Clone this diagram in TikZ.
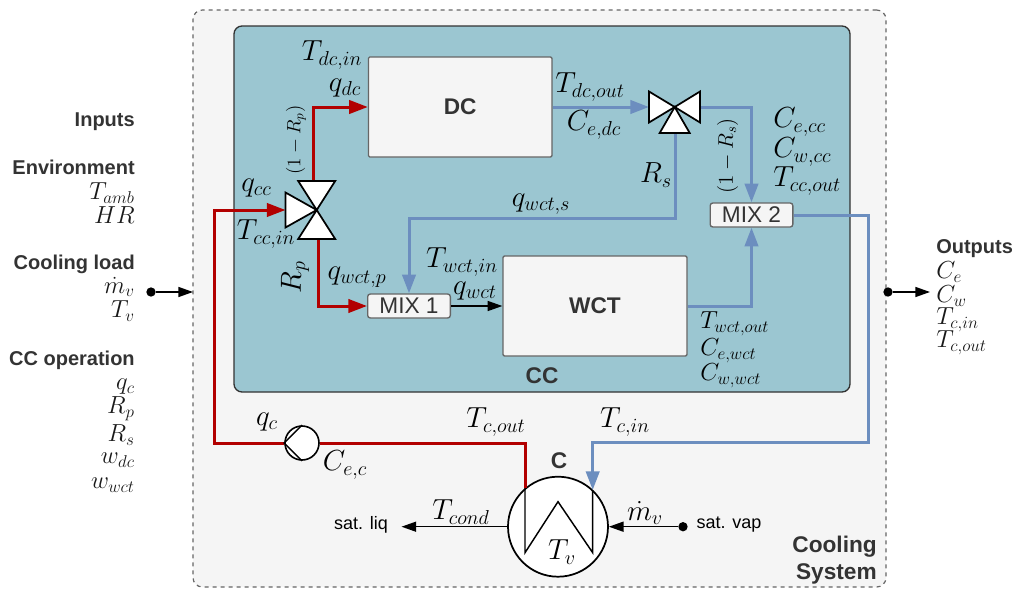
\documentclass[tikz,border=0pt]{standalone}
\usepackage{amsmath}
\usepackage[no-math]{fontspec}
\setmainfont{Liberation Sans}
\usepackage{xcolor}
\usetikzlibrary{arrows.meta, positioning, calc}
\tikzset{>={Stealth}}
\definecolor{hotred}{HTML}{B20000}
\definecolor{coldblue}{HTML}{6C8EBF}
\definecolor{ccfill}{HTML}{9BC6D1}
\definecolor{sysfill}{HTML}{F5F5F5}
\definecolor{darktext}{HTML}{333333}
\begin{document}
\begin{tikzpicture}[
  x=0.75pt, y=-0.75pt,
  lab/.style={font=\huge, scale=1.05, inner sep=0pt},
  sidelab/.style={font=\LARGE, scale=1.07, inner sep=0pt, text=black!90},
  smalllab/.style={font=\Large, inner sep=0pt, rotate=90},
  head/.style={font=\fontsize{15}{18}\selectfont\bfseries, text=darktext, inner sep=0pt},
  title/.style={font=\fontsize{17}{20}\selectfont\bfseries, text=darktext, inner sep=0pt},
  plain/.style={font=\fontsize{13.5}{16}\selectfont, inner sep=0pt},
  unit/.style={draw=black!60, line width=1pt, fill=sysfill, rounded corners=1pt, font=\fontsize{17}{20}\selectfont\bfseries, text=darktext, inner sep=0pt},
  mix/.style={draw=black!60, line width=1pt, fill=sysfill, rounded corners=2pt, font=\fontsize{17}{20}\selectfont, text=darktext, inner sep=0pt, minimum width=62pt, minimum height=18pt},
  redline/.style={draw=hotred, line width=2.25pt, -{Triangle[length=14pt,width=10pt]}},
  blueline/.style={draw=coldblue, line width=2.25pt, -{Triangle[length=14pt,width=10pt]}},
  blackline/.style={draw=black, line width=1.1pt, -{Triangle[length=11pt,width=7.5pt]}},
  valve/.style={draw=black, line width=1.3pt, fill=white, line join=miter},
  dotnode/.style={circle, fill=black, inner sep=0pt, minimum size=7pt}
]
  \useasboundingbox (0,0) rectangle (1014,589);

  % Frames
  \node[draw=black!60, dashed, line width=0.9pt, fill=sysfill, rounded corners=7pt, minimum width=519.75pt, minimum height=432.75pt, inner sep=0pt] (system) at (539.5,298.5) {};
  \node[draw=black!80, line width=1pt, fill=ccfill, rounded corners=6pt, minimum width=462pt, minimum height=274.5pt, inner sep=0pt] (cc) at (542,209) {};

  % Units
  \node[unit, minimum width=137.6pt, minimum height=75pt] (dc) at (460.2,107) {\raisebox{-1.5pt}{DC}};
  \node[unit, minimum width=138pt, minimum height=75pt] (wct) at (595,306) {WCT};
  \node[mix] (mixone) at (409,306) {MIX 1};
  \node[mix] (mixtwo) at (751.5,215) {MIX 2};
  \node[circle, draw=black, line width=1.2pt, fill=white, minimum size=25.5pt, inner sep=0pt] (pump) at (302,443) {};
  \node[circle, draw=black, line width=1.3pt, fill=white, minimum size=75pt, inner sep=0pt] (cond) at (558,526.7) {};
  \node[dotnode] (dotin) at (151,292) {};
  \node[dotnode] (dotout) at (888,292) {};
  \node[dotnode] (dotvap) at (683,526.7) {};

  % Ports
  \coordinate (vone) at (316.7,210);
  \coordinate (vtwo) at (674.7,107);
  \coordinate (vonew) at (285.5,210);
  \coordinate (vonen) at (313,181);
  \coordinate (vones) at (318,239);
  \coordinate (vtwow) at (649,107);
  \coordinate (vtwoe) at (700,107);
  \coordinate (vtwos) at (675,133);
  \coordinate (condout) at (525,488);
  \coordinate (condin) at (592.7,490);
  \coordinate (bus) at (214,300);
  \coordinate (rightbus) at (868,300);
  \coordinate (sline) at (500,218.5);
  \coordinate (retline) at (700,442.5);
  \coordinate (edgein) at (193,292);
  \coordinate (edgeout) at (930,292);
  \coordinate (liq) at (401.5,526.7);

  % Paths
  \draw[redline] (pump.west) -- (bus |- pump.west) -- (bus |- vonew) -- (vonew);
  \draw[redline, -] (pump.east) -| (condout);
  \draw[redline] (vonen) |- (dc.west);
  \draw[redline] (vones) |- (mixone.west);
  \draw[blackline] (mixone.east) -- (wct.west);
  \draw[blueline] (dc.east) -- (vtwow);
  \draw[blueline] (vtwoe) -| (mixtwo.north);
  \draw[blueline] (wct.east) -| (mixtwo.south);
  \draw[blueline] (vtwos) -- (vtwos |- sline) -- (mixone.north |- sline) -- (mixone.north);
  \draw[blueline] (mixtwo.east) -- (rightbus |- mixtwo.east) -- (rightbus |- retline) -- (condin |- retline) -- (condin);
  \draw[blackline] (cond.west) -- (liq);
  \draw[blackline] (dotvap) -- (cond.east);
  \draw[blackline] (dotin) -- (edgein);
  \draw[blackline] (dotout) -- (edgeout);

  % Valves
  \draw[valve] (vone) -- ++(-18.5,-29) -- ++(37,0) -- cycle;
  \draw[valve] (vone) -- ++(-18.5,29) -- ++(37,0) -- cycle;
  \draw[valve] (vone) -- ++(-31.2,-17.5) -- ++(0,35) -- cycle;
  \draw[valve] (vtwo) -- ++(-25.7,-15.5) -- ++(0,31) -- cycle;
  \draw[valve] (vtwo) -- ++(25.3,-15.5) -- ++(0,31) -- cycle;
  \draw[valve] (vtwo) -- ++(-15,26) -- ++(30,0) -- cycle;

  % Pump and condenser inside
  \draw[line width=1.1pt] (pump.north) -- (pump.west) -- (pump.south);
  \draw[line width=1.1pt, line join=miter] (condout) -- ++(0,64.7) -- (558,501.7) -- (592.7,552.7) -- (condin);

  % Labels inside CC
  \node[lab] (tdcin) at (332,55) {$T_{dc,in}$};
  \node[lab] (qdc) at (345,88) {$q_{dc}$};
  \node[lab] (qcc) at (256.5,188) {$q_{cc}$};
  \node[lab] (tccin) at (266,234) {$T_{cc,in}$};
  \node[lab, rotate=90] (rp) at (295,277) {$R_p$};
  \node[lab] (qwctp) at (357,277) {$q_{wct,p}$};
  \node[lab] (twctin) at (462,262) {$T_{wct,in}$};
  \node[lab] (qwct) at (475,291) {$q_{wct}$};
  \node[lab] (tdcout) at (590,87) {$T_{dc,out}$};
  \node[lab] (cedc) at (594,125) {$C_{e,dc}$};
  \node[lab] (rs) at (656,175) {$R_s$};
  \node[lab] (qwcts) at (541,204) {$q_{wct,s}$};
  \node[lab, anchor=west] (cecc) at (773,122) {$C_{e,cc}$};
  \node[lab, anchor=west] (cwcc) at (773,152) {$C_{w,cc}$};
  \node[lab, anchor=west] (tccout) at (773,181) {$T_{cc,out}$};
  \node[sidelab, text=black, anchor=west] (twctout) at (700,324) {$T_{wct,out}$};
  \node[sidelab, text=black, anchor=west] (cewct) at (700,351) {$C_{e,wct}$};
  \node[sidelab, text=black, anchor=west] (cwwct) at (700,376) {$C_{w,wct}$};
  \node[smalllab] (oneminusrp) at (296,140) {$(1-R_p)$};
  \node[smalllab, scale=1.1] (oneminusrs) at (727.7,156) {$(1-R_s)$};
  \node[title] (cclabel) at (542,376) {CC};

  % Labels around the condenser
  \node[lab] (qc) at (267,422) {$q_c$};
  \node[lab] (cec) at (345,465) {$C_{e,c}$};
  \node[lab] (tcout) at (496,422) {$T_{c,out}$};
  \node[lab] (tcin) at (625,422) {$T_{c,in}$};
  \node[title] (clabel) at (559,461) {C};
  \node[lab] (tcond) at (461,512) {$T_{cond}$};
  \node[lab] (mdot) at (645,513) {$\dot{m}_v$};
  \node[lab] (tv) at (562,552) {$T_v$};
  \node[plain] (satliq) at (361,525) {sat. liq};
  \node[plain] (satvap) at (729,525) {sat. vap};
  \node[title, anchor=east] (cooling) at (877,547) {Cooling};
  \node[title, anchor=east] (coolsys) at (877,574) {System};

  % Inputs
  \node[head, anchor=east] (inputs) at (135,122) {Inputs};
  \node[head, anchor=east] (envir) at (135,167) {Environment};
  \node[sidelab, anchor=east] (tamb) at (135,193) {$T_{amb}$};
  \node[sidelab, anchor=east] (hr) at (135,215) {$HR$};
  \node[head, anchor=east] (load) at (135,264) {Cooling load};
  \node[sidelab, anchor=east] (mv) at (135,287) {$\dot{m}_v$};
  \node[sidelab, anchor=east] (tvin) at (135,311) {$T_v$};
  \node[head, anchor=east] (ccop) at (135,360) {CC operation};
  \node[sidelab, anchor=east] (qcin) at (135,387) {$q_c$};
  \node[sidelab, anchor=east] (rpin) at (135,409) {$R_p$};
  \node[sidelab, anchor=east] (rsin) at (135,435) {$R_s$};
  \node[sidelab, anchor=east] (wdc) at (135,460) {$w_{dc}$};
  \node[sidelab, anchor=east] (wwct) at (135,485) {$w_{wct}$};

  % Outputs
  \node[head, anchor=west] (outputs) at (936,249) {Outputs};
  \node[sidelab, anchor=west] (ce) at (936,272) {$C_e$};
  \node[sidelab, anchor=west] (cw) at (936,296) {$C_w$};
  \node[sidelab, anchor=west] (tcinout) at (936,320) {$T_{c,in}$};
  \node[sidelab, anchor=west] (tcoutout) at (936,343) {$T_{c,out}$};
\end{tikzpicture}
\end{document}
